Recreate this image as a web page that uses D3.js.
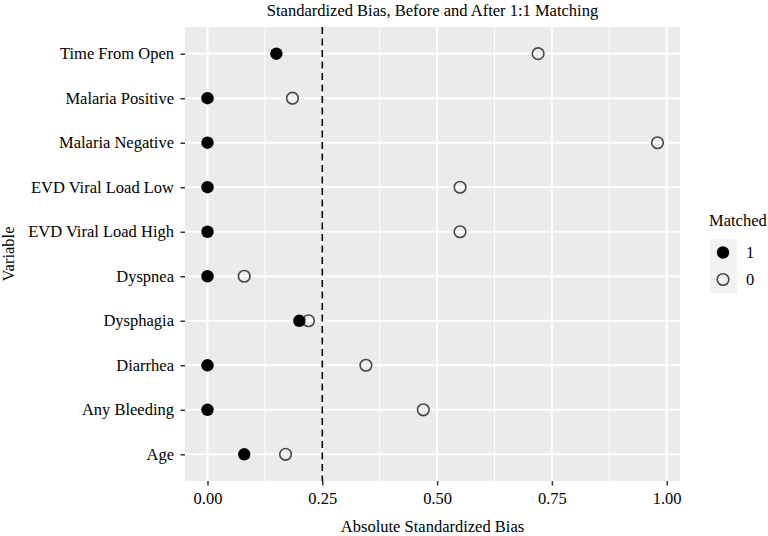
<!DOCTYPE html>
<html>
<head>
<meta charset="utf-8">
<script src="https://cdn.jsdelivr.net/npm/d3@7"></script>
<style>
  body { margin: 0; background: #fff; }
  svg text { font-family: "Liberation Serif", "DejaVu Serif", serif; fill: #000; }
</style>
</head>
<body>
<svg width="768" height="536"></svg>
<script>
// variables, top to bottom as drawn
const variables = ["Time From Open", "Malaria Positive", "Malaria Negative", "EVD Viral Load Low",
                   "EVD Viral Load High", "Dyspnea", "Dysphagia", "Diarrhea", "Any Bleeding", "Age"];
// absolute standardized bias after matching (Matched = 1)
const matchedBias = [0.15, 0.0, 0.0, 0.0, 0.0, 0.0, 0.20, 0.0, 0.0, 0.08];
// absolute standardized bias before matching (Matched = 0)
const unmatchedBias = [0.72, 0.185, 0.98, 0.55, 0.55, 0.08, 0.22, 0.345, 0.47, 0.17];
const xTicks = [0, 0.25, 0.5, 0.75, 1.0];
const xMinor = [0.125, 0.375, 0.625, 0.875];
const threshold = 0.25;
const legendLevels = ["1", "0"];

const svg = d3.select("svg");
const pLeft = 185, pRight = 680, pTop = 27, pBottom = 481;

const x = d3.scaleLinear().domain([-0.049, 1.029]).range([pLeft, pRight]);
const y = d3.scalePoint().domain(variables).range([pTop, pBottom]).padding(0.6);

// panel
svg.append("rect")
   .attr("x", pLeft).attr("y", pTop)
   .attr("width", pRight - pLeft).attr("height", pBottom - pTop)
   .attr("fill", "#ebebeb");

// grid
svg.selectAll(".minor")
   .data(xMinor).enter().append("line")
   .attr("x1", d => x(d)).attr("x2", d => x(d))
   .attr("y1", pTop).attr("y2", pBottom)
   .attr("stroke", "#fff").attr("stroke-width", 1);
svg.selectAll(".majorx")
   .data(xTicks).enter().append("line")
   .attr("x1", d => x(d)).attr("x2", d => x(d))
   .attr("y1", pTop).attr("y2", pBottom)
   .attr("stroke", "#fff").attr("stroke-width", 2);
svg.selectAll(".majory")
   .data(variables).enter().append("line")
   .attr("x1", pLeft).attr("x2", pRight)
   .attr("y1", d => y(d)).attr("y2", d => y(d))
   .attr("stroke", "#fff").attr("stroke-width", 2);

// threshold line
svg.append("line")
   .attr("x1", x(threshold)).attr("x2", x(threshold))
   .attr("y1", pTop).attr("y2", pBottom)
   .attr("stroke", "#000").attr("stroke-width", 1.6)
   .attr("stroke-dasharray", "7,4.5");

// axes
const xAxis = svg.append("g")
   .attr("transform", `translate(0,${pBottom})`)
   .call(d3.axisBottom(x).tickValues(xTicks).tickFormat(d3.format(".2f")).tickSize(4.5).tickPadding(6));
const yAxis = svg.append("g")
   .attr("transform", `translate(${pLeft},0)`)
   .call(d3.axisLeft(y).tickSize(4.5).tickPadding(6.5));
[xAxis, yAxis].forEach(g => {
  g.select(".domain").remove();
  g.selectAll(".tick line").attr("stroke", "#333").attr("stroke-width", 1.5);
  g.selectAll(".tick text").attr("font-size", 16.5).attr("fill", "#222")
   .style("font-family", '"Liberation Serif", serif');
});
xAxis.selectAll(".tick text").attr("dy", "0.78em");
yAxis.selectAll(".tick text").attr("dy", "0.3em");

// points: unmatched first, matched on top
svg.selectAll(".pt0")
   .data(variables).enter().append("circle")
   .attr("cx", (d, i) => x(unmatchedBias[i]))
   .attr("cy", d => y(d))
   .attr("r", 5.8)
   .attr("fill", "none").attr("stroke", "#474747").attr("stroke-width", 1.6);
svg.selectAll(".pt1")
   .data(variables).enter().append("circle")
   .attr("cx", (d, i) => x(matchedBias[i]))
   .attr("cy", d => y(d))
   .attr("r", 6.2)
   .attr("fill", "#000");

// titles
svg.append("text")
   .attr("x", (pLeft + pRight) / 2).attr("y", 15.5)
   .attr("text-anchor", "middle").attr("font-size", 16.5)
   .text("Standardized Bias, Before and After 1:1 Matching");
svg.append("text")
   .attr("x", (pLeft + pRight) / 2).attr("y", 532)
   .attr("text-anchor", "middle").attr("font-size", 16.5)
   .text("Absolute Standardized Bias");
svg.append("text")
   .attr("transform", `translate(14,${(pTop + pBottom) / 2}) rotate(-90)`)
   .attr("text-anchor", "middle").attr("font-size", 16.5)
   .text("Variable");

// legend
const lg = svg.append("g").attr("transform", "translate(709,226)");
lg.append("text").attr("x", 0).attr("y", 0).attr("font-size", 16.5).text("Matched");
legendLevels.forEach((lv, i) => {
  const ky = 13 + i * 27;
  lg.append("rect").attr("x", 1).attr("y", ky).attr("width", 27).attr("height", 27).attr("fill", "#f2f2f2");
  lg.append("circle").attr("cx", 14).attr("cy", ky + 13.5).attr("r", lv === "1" ? 6.2 : 5.8)
    .attr("fill", lv === "1" ? "#000" : "none")
    .attr("stroke", lv === "1" ? "none" : "#474747").attr("stroke-width", 1.6);
  lg.append("text").attr("x", 37).attr("y", ky + 13.5).attr("dy", "0.33em")
    .attr("font-size", 16.5).attr("fill", "#000").text(lv);
});
</script>
</body>
</html>
